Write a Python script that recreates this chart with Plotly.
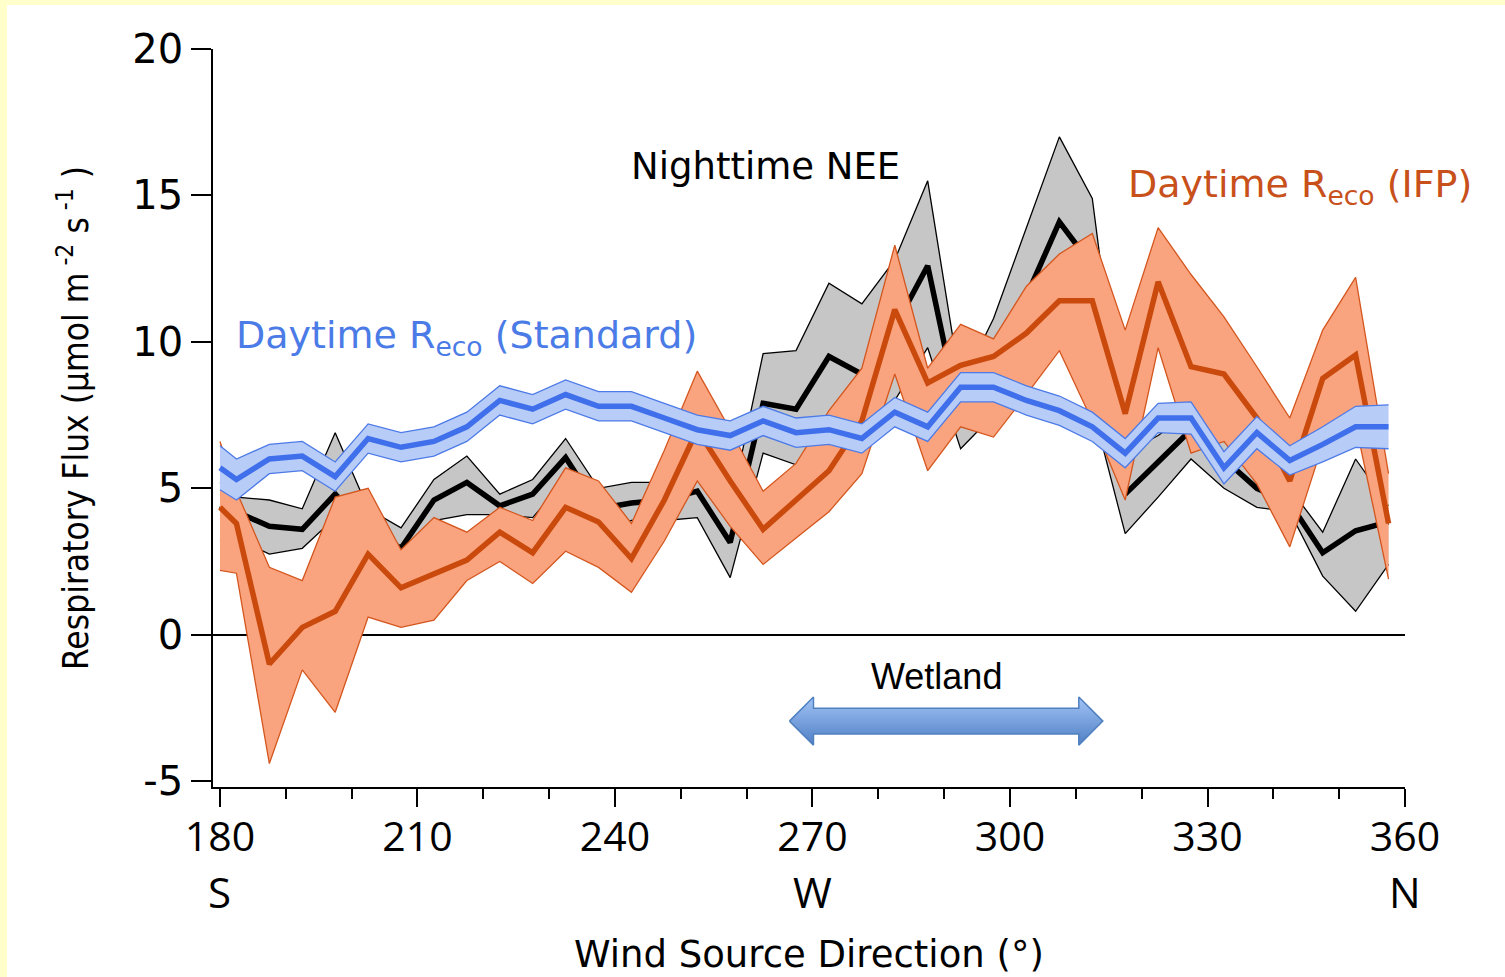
import plotly.graph_objects as go

# ---------------- data ----------------
wind_dir = [180, 182.5, 187.5, 192.5, 197.5, 202.5, 207.5, 212.5, 217.5, 222.5,
            227.5, 232.5, 237.5, 242.5, 247.5, 252.5, 257.5, 262.5, 267.5, 272.5,
            277.5, 282.5, 287.5, 292.5, 297.5, 302.5, 307.5, 312.5, 317.5, 322.5,
            327.5, 332.5, 337.5, 342.5, 347.5, 352.5, 357.5]

nee_mid = [4.4, 4.2, 3.7, 3.6, 4.8, 3.6, 2.95, 4.6, 5.2, 4.4,
           4.8, 6.05, 4.3, 4.5, 4.6, 4.9, 3.15, 7.9, 7.7, 9.5,
           8.9, 10.5, 12.6, 7.3, 9.0, 11.6, 14.1, 12.6, 4.8, 5.9,
           7.0, 6.0, 5.0, 4.5, 2.8, 3.55, 3.85]
nee_hi = [5.2, 4.7, 4.6, 4.3, 6.9, 4.3, 3.65, 5.3, 6.1, 4.8,
          5.3, 6.7, 5.0, 5.2, 5.2, 5.7, 4.3, 9.6, 9.7, 12.0,
          11.3, 12.8, 15.5, 8.5, 10.8, 13.9, 17.0, 14.9, 6.2, 6.8,
          7.6, 6.6, 5.85, 5.0, 3.5, 6.0, 4.4]
nee_lo = [3.2, 3.3, 2.75, 2.95, 4.0, 2.9, 2.8, 3.9, 4.1, 4.1,
          4.0, 5.3, 3.5, 3.9, 3.9, 4.0, 1.95, 6.2, 5.8, 7.0,
          7.0, 8.0, 9.8, 6.35, 7.5, 9.5, 10.0, 7.8, 3.45, 4.7,
          6.0, 5.0, 4.35, 4.2, 2.0, 0.8, 2.4]

ifp_mid = [4.35, 3.8, -1.0, 0.25, 0.8, 2.75, 1.6, 2.1, 2.55, 3.5,
           2.8, 4.35, 3.85, 2.6, 4.6, 7.0, 5.25, 3.6, 4.6, 5.6,
           7.3, 11.1, 8.6, 9.2, 9.5, 10.3, 11.4, 11.4, 7.55, 12.05,
           9.15, 8.9, 7.4, 5.25, 8.75, 9.55, 3.8]
ifp_hi = [6.6, 4.9, 2.3, 1.85, 4.7, 5.0, 2.9, 4.0, 3.5, 4.35,
          3.9, 5.7, 5.25, 3.8, 6.3, 9.0, 7.0, 4.9, 5.85, 7.65,
          9.1, 13.3, 9.1, 10.6, 10.1, 11.9, 13.0, 13.7, 10.4, 13.9,
          12.3, 10.85, 9.15, 7.4, 10.4, 12.2, 5.5]
ifp_lo = [2.2, 2.1, -4.4, -1.2, -2.65, 0.6, 0.25, 0.5, 1.85, 2.5,
          1.75, 2.85, 2.3, 1.45, 3.2, 5.25, 3.7, 2.4, 3.3, 4.2,
          5.5, 8.9, 5.6, 7.1, 6.75, 8.2, 9.7, 7.3, 4.6, 9.8,
          6.2, 6.6, 5.15, 3.0, 6.5, 7.2, 1.9]

std_mid = [5.7, 5.3, 6.0, 6.1, 5.4, 6.7, 6.4, 6.6, 7.1, 8.0,
           7.7, 8.2, 7.8, 7.8, 7.4, 7.0, 6.8, 7.3, 6.9, 7.0,
           6.7, 7.6, 7.1, 8.45, 8.45, 8.0, 7.65, 7.1, 6.2, 7.4,
           7.4, 5.7, 6.9, 5.95, 6.5, 7.1, 7.1]
std_err = [0.75, 0.7, 0.5, 0.5, 0.5, 0.5, 0.5, 0.5, 0.5, 0.5,
           0.5, 0.5, 0.5, 0.5, 0.5, 0.5, 0.5, 0.5, 0.5, 0.5,
           0.5, 0.5, 0.5, 0.5, 0.5, 0.5, 0.5, 0.5, 0.5, 0.5,
           0.55, 0.55, 0.55, 0.5, 0.6, 0.7, 0.75]

x_tickvals = [180, 210, 240, 270, 300, 330, 360]
x_ticklabels = ["180", "210", "240", "270", "300", "330", "360"]
compass = {180: "S", 270: "W", 360: "N"}
y_tickvals = [-5, 0, 5, 10, 15, 20]
y_ticklabels = ["-5", "0", "5", "10", "15", "20"]

wetland_span = [266.5, 314.1]
wetland_arrow_y = -2.95
wetland_label_x = 288.9

# ---------------- styling ----------------
GRAY_FILL = "#C6C6C6"
ORANGE_FILL = "#F9A47E"
ORANGE_EDGE = "#D4561E"
ORANGE_LINE = "#C94A0C"
BLUE_FILL = "#B8CCF8"
BLUE_EDGE = "#4C7AE6"
BLUE_LINE = "#3F6FEA"
TXT_ORANGE = "#C8501A"
TXT_BLUE = "#4A7BE6"

fig = go.Figure()


def add_band(x, lo, hi, mid, edge, fill, line, edge_w=1.3, mid_w=5.5):
    fig.add_trace(go.Scatter(x=x, y=hi, mode="lines",
                             line=dict(color=edge, width=edge_w),
                             hoverinfo="skip", showlegend=False))
    fig.add_trace(go.Scatter(x=x, y=lo, mode="lines", fill="tonexty",
                             fillcolor=fill, line=dict(color=edge, width=edge_w),
                             hoverinfo="skip", showlegend=False))
    fig.add_trace(go.Scatter(x=x, y=mid, mode="lines",
                             line=dict(color=line, width=mid_w),
                             showlegend=False))


add_band(wind_dir, nee_lo, nee_hi, nee_mid, "#000000", GRAY_FILL, "#000000")
add_band(wind_dir, ifp_lo, ifp_hi, ifp_mid, ORANGE_EDGE, ORANGE_FILL, ORANGE_LINE)
std_hi = [m + e for m, e in zip(std_mid, std_err)]
std_lo = [m - e for m, e in zip(std_mid, std_err)]
add_band(wind_dir, std_lo, std_hi, std_mid, BLUE_EDGE, BLUE_FILL, BLUE_LINE)

# Wetland double arrow (block arrow with vertical gradient)
x0, x1 = wetland_span
yc = wetland_arrow_y
head_len = 3.65
shaft_h = 0.44
head_h = 0.82
ax = [x0, x0 + head_len, x0 + head_len, x1 - head_len, x1 - head_len, x1,
      x1 - head_len, x1 - head_len, x0 + head_len, x0 + head_len, x0]
ay = [yc, yc + head_h, yc + shaft_h, yc + shaft_h, yc + head_h, yc,
      yc - head_h, yc - shaft_h, yc - shaft_h, yc - head_h, yc]
fig.add_trace(go.Scatter(
    x=ax, y=ay, mode="lines", fill="toself",
    fillgradient=dict(type="vertical",
                      colorscale=[[0, "#4F7FC4"], [1, "#A2C4F6"]],
                      start=yc - head_h, stop=yc + head_h),
    line=dict(color="#5080C0", width=1.5),
    hoverinfo="skip", showlegend=False))

# ---------------- annotations ----------------
ann = []
ann.append(dict(x=262.9, y=16.0, xref="x", yref="y", text="Nighttime NEE",
                showarrow=False, font=dict(family="DejaVu Sans", size=37, color="black")))
ann.append(dict(x=344.0, y=15.3, xref="x", yref="y",
                text="Daytime R<sub>eco</sub> (IFP)",
                showarrow=False, font=dict(family="DejaVu Sans", size=38, color=TXT_ORANGE)))
ann.append(dict(x=217.4, y=10.15, xref="x", yref="y",
                text="Daytime R<sub>eco</sub> (Standard)",
                showarrow=False, font=dict(family="DejaVu Sans", size=38, color=TXT_BLUE)))
ann.append(dict(x=wetland_label_x, y=-1.43, xref="x", yref="y", text="Wetland",
                showarrow=False, font=dict(family="Liberation Sans", size=36, color="black")))
for deg, letter in compass.items():
    ann.append(dict(x=deg, y=-0.142, xref="x", yref="paper", text=letter,
                    showarrow=False, yanchor="middle", xanchor="center",
                    font=dict(family="Open Sans", size=42, color="black")))
ann.append(dict(x=0.5, y=-0.2276, xref="paper", yref="paper",
                text="Wind Source Direction (°)", showarrow=False,
                xanchor="center", yanchor="middle",
                font=dict(family="DejaVu Sans", size=37, color="black")))
ann.append(dict(x=-0.1175, y=0.50, xref="paper", yref="paper", textangle=-90,
                xanchor="center", yanchor="middle",
                text="Respiratory Flux (µmol m<sup> -2</sup> s<sup> -1</sup> )",
                showarrow=False,
                font=dict(family="DejaVu Sans Condensed, Liberation Sans", size=35,
                          color="black")))

shapes = [dict(type="rect", xref="paper", yref="paper",
               x0=-0.1728, x1=1.09, y0=-0.27, y1=1.0595,
               fillcolor="white", line=dict(width=0), layer="below")]

fig.update_layout(
    width=1505, height=977,
    margin=dict(l=213, r=100, t=49, b=190),
    paper_bgcolor="#FFFFCC", plot_bgcolor="rgba(0,0,0,0)",
    showlegend=False, annotations=ann, shapes=shapes,
    xaxis=dict(range=[178.94, 360], tickmode="array", tickvals=x_tickvals,
               ticktext=x_ticklabels, ticks="outside", ticklen=18, tickwidth=1.5,
               tickcolor="black", showline=True, linecolor="black", linewidth=1.5,
               showgrid=False, zeroline=False, ticklabelstandoff=-5,
               tickfont=dict(family="Open Sans", size=41, color="black"),
               minor=dict(ticks="outside", tickmode="linear", tick0=180, dtick=10,
                          ticklen=10, tickwidth=1.5, tickcolor="black", showgrid=False)),
    yaxis=dict(range=[-5.2, 20], tickmode="array", tickvals=y_tickvals,
               ticktext=y_ticklabels, ticks="outside", ticklen=20, tickwidth=1.5,
               tickcolor="black", showline=True, linecolor="black", linewidth=1.5,
               showgrid=False, zeroline=True, zerolinecolor="black", zerolinewidth=1.5,
               tickfont=dict(family="DejaVu Sans", size=40, color="black")),
)

fig.write_html("out.html")
